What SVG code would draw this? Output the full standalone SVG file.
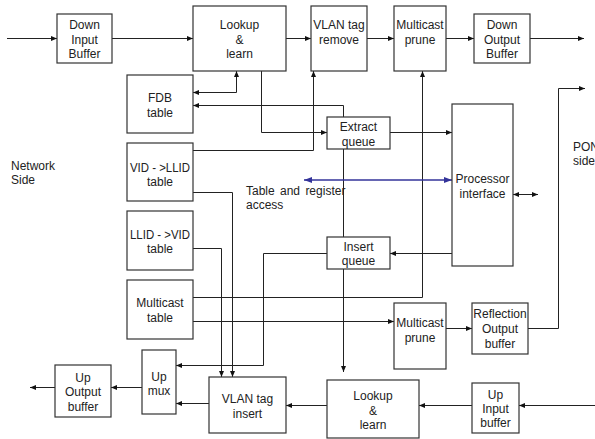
<svg xmlns="http://www.w3.org/2000/svg" width="595" height="439" viewBox="0 0 595 439">
<style>
.box{fill:#fff;stroke:#333;stroke-width:1.2}
.t{font-family:"Liberation Sans",Arial,sans-serif;font-size:12px;fill:#222;text-anchor:middle}
.l{font-family:"Liberation Sans",Arial,sans-serif;font-size:12px;fill:#222}
.c{fill:none;stroke:#222;stroke-width:1}
.b{fill:none;stroke:#33339a;stroke-width:1.6}
</style>
<defs>
<marker id="a" viewBox="0 0 6 6" refX="6" refY="3" markerWidth="6" markerHeight="6" markerUnits="userSpaceOnUse" orient="auto-start-reverse"><path d="M0,0.5 L6,3 L0,5.5 z" fill="#111"/></marker>
<marker id="ab" viewBox="0 0 8 8" refX="8" refY="4" markerWidth="8" markerHeight="8" markerUnits="userSpaceOnUse" orient="auto-start-reverse"><path d="M0,1 L8,4 L0,7 z" fill="#33339a"/></marker>
</defs>
<rect width="595" height="439" fill="#fff"/>
<g id="connectors">
<path class="c" d="M7,38.5 H57" marker-end="url(#a)"/>
<path class="c" d="M112,38.5 H193" marker-end="url(#a)"/>
<path class="c" d="M286,38.5 H311" marker-end="url(#a)"/>
<path class="c" d="M367,38.5 H394" marker-end="url(#a)"/>
<path class="c" d="M446,38.5 H474" marker-end="url(#a)"/>
<path class="c" d="M530,38.5 H584" marker-end="url(#a)"/>
<path class="c" d="M193,92.5 H236.5 V71" marker-start="url(#a)" marker-end="url(#a)"/>
<path class="c" d="M193,105.5 H343.5 V372" marker-start="url(#a)" marker-end="url(#a)"/>
<path class="c" d="M261.5,71 V132.5 H327" marker-end="url(#a)"/>
<path class="c" d="M390,132.5 H452" marker-end="url(#a)"/>
<path class="c" d="M193,150.5 H313.5 V71" marker-end="url(#a)"/>
<path class="c" d="M193,192.5 H232.5 V377" marker-end="url(#a)"/>
<path class="c" d="M193,248.5 H221.5 V377" marker-end="url(#a)"/>
<path class="c" d="M193,297.5 H422.5 V71" marker-end="url(#a)"/>
<path class="c" d="M193,321.5 H394" marker-end="url(#a)"/>
<path class="c" d="M327,253.5 H263.5 V365.5 H176" marker-end="url(#a)"/>
<path class="c" d="M452,253.5 H390" marker-end="url(#a)"/>
<path class="c" d="M513,194.5 H538" marker-start="url(#a)" marker-end="url(#a)"/>
<path class="c" d="M528,328.5 H558.5 V88.5 H585" marker-end="url(#a)"/>
<path class="c" d="M446,328.5 H472" marker-end="url(#a)"/>
<path class="c" d="M595,405.5 H519" marker-end="url(#a)"/>
<path class="c" d="M472,405.5 H419" marker-end="url(#a)"/>
<path class="c" d="M327,405.5 H286" marker-end="url(#a)"/>
<path class="c" d="M209,403.5 H176" marker-end="url(#a)"/>
<path class="c" d="M142,387.5 H111" marker-end="url(#a)"/>
<path class="c" d="M55,387.5 H30" marker-end="url(#a)"/>
<path class="b" d="M304,180 H452" marker-start="url(#ab)" marker-end="url(#ab)"/>
</g>
<g id="down-input-buffer"><rect class="box" x="57" y="14" width="55" height="49"/><text class="t" x="84.5" y="29">Down</text><text class="t" x="84.5" y="44">Input</text><text class="t" x="84.5" y="58">Buffer</text></g>
<g id="lookup-learn-top"><rect class="box" x="193" y="6" width="93" height="65"/><text class="t" x="239.5" y="29">Lookup</text><text class="t" x="239.5" y="44">&amp;</text><text class="t" x="239.5" y="58">learn</text></g>
<g id="vlan-tag-remove"><rect class="box" x="311" y="6" width="56" height="65"/><text class="t" x="339" y="29">VLAN tag</text><text class="t" x="339" y="44">remove</text></g>
<g id="multicast-prune-top"><rect class="box" x="394" y="6" width="52" height="65"/><text class="t" x="420" y="29">Multicast</text><text class="t" x="420" y="44">prune</text></g>
<g id="down-output-buffer"><rect class="box" x="474" y="14" width="56" height="49"/><text class="t" x="502" y="29">Down</text><text class="t" x="502" y="44">Output</text><text class="t" x="502" y="58">Buffer</text></g>
<g id="fdb-table"><rect class="box" x="127" y="75" width="66" height="58"/><text class="t" x="160" y="102">FDB</text><text class="t" x="160" y="117">table</text></g>
<g id="extract-queue"><rect class="box" x="327" y="117" width="63" height="32"/><text class="t" x="358.5" y="131">Extract</text><text class="t" x="358.5" y="146">queue</text></g>
<g id="processor-interface"><rect class="box" x="452" y="104" width="61" height="162"/><text class="t" x="482.5" y="183">Processor</text><text class="t" x="482.5" y="198">interface</text></g>
<g id="vid-llid-table"><rect class="box" x="127" y="143" width="66" height="58"/><text class="t" x="160" y="172" textLength="60" lengthAdjust="spacingAndGlyphs">VID - &gt;LLID</text><text class="t" x="160" y="186">table</text></g>
<g id="llid-vid-table"><rect class="box" x="127" y="211" width="66" height="59"/><text class="t" x="160" y="239" textLength="60" lengthAdjust="spacingAndGlyphs">LLID - &gt;VID</text><text class="t" x="160" y="253">table</text></g>
<g id="insert-queue"><rect class="box" x="327" y="237" width="63" height="32"/><text class="t" x="358.5" y="251">Insert</text><text class="t" x="358.5" y="265">queue</text></g>
<g id="multicast-table"><rect class="box" x="127" y="280" width="66" height="59"/><text class="t" x="160" y="307">Multicast</text><text class="t" x="160" y="322">table</text></g>
<g id="multicast-prune-bottom"><rect class="box" x="394" y="303" width="52" height="66"/><text class="t" x="420" y="327">Multicast</text><text class="t" x="420" y="342">prune</text></g>
<g id="reflection-output-buffer"><rect class="box" x="472" y="303" width="56" height="51"/><text class="t" x="500" y="318">Reflection</text><text class="t" x="500" y="333">Output</text><text class="t" x="500" y="348">buffer</text></g>
<g id="up-input-buffer"><rect class="box" x="472" y="383" width="47" height="50"/><text class="t" x="495.5" y="399">Up</text><text class="t" x="495.5" y="413">Input</text><text class="t" x="495.5" y="427">buffer</text></g>
<g id="lookup-learn-bottom"><rect class="box" x="327" y="380" width="92" height="58"/><text class="t" x="373" y="400">Lookup</text><text class="t" x="373" y="415">&amp;</text><text class="t" x="373" y="429">learn</text></g>
<g id="vlan-tag-insert"><rect class="box" x="209" y="377" width="77" height="56"/><text class="t" x="247.5" y="403">VLAN tag</text><text class="t" x="247.5" y="418">insert</text></g>
<g id="up-mux"><rect class="box" x="142" y="350" width="34" height="64"/><text class="t" x="159" y="381">Up</text><text class="t" x="159" y="395">mux</text></g>
<g id="up-output-buffer"><rect class="box" x="55" y="365" width="56" height="52"/><text class="t" x="83" y="382">Up</text><text class="t" x="83" y="396">Output</text><text class="t" x="83" y="411">buffer</text></g>
<g id="labels">
<text class="l" x="11" y="170">Network</text><text class="l" x="11" y="184">Side</text>
<text class="l" x="573" y="151">PON</text><text class="l" x="573" y="165">side</text>
<text class="l" x="246" y="195" word-spacing="2">Table and register</text><text class="l" x="246" y="209">access</text>
</g>
</svg>
